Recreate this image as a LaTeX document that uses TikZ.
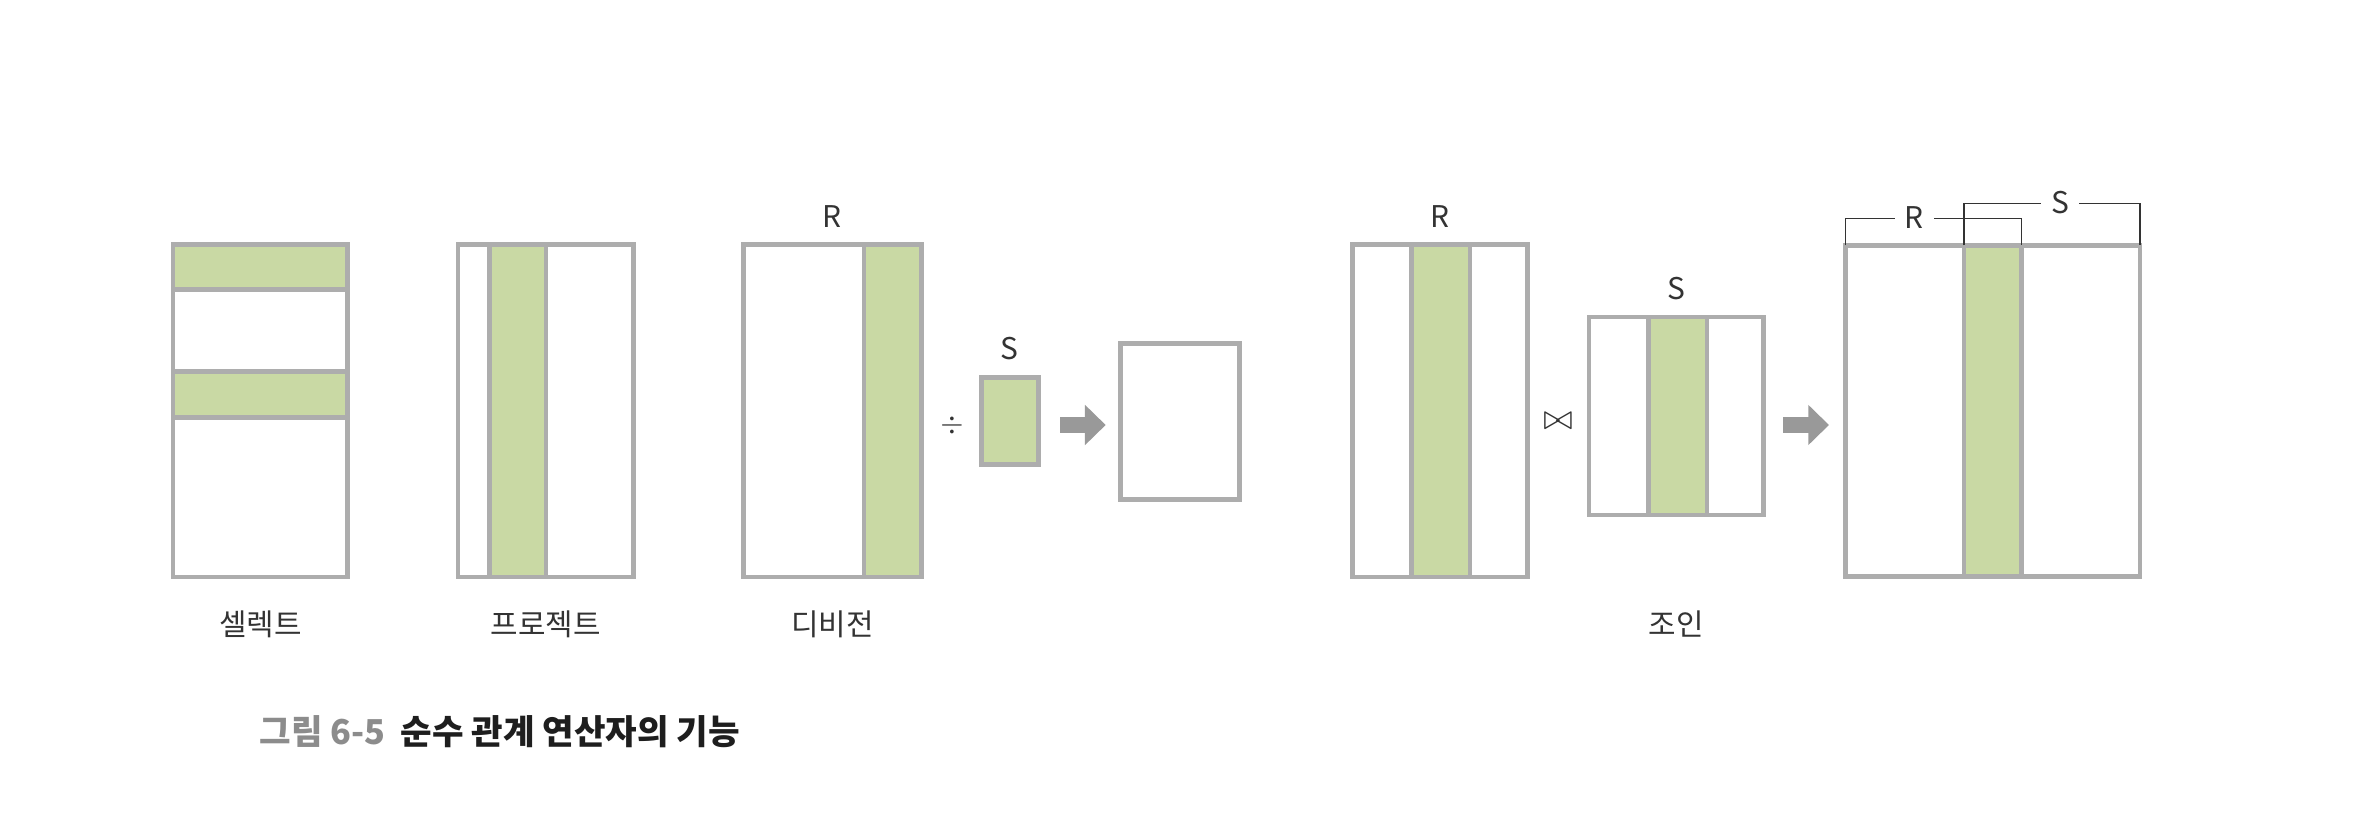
\documentclass[tikz,border=0pt]{standalone}
\usepackage{fontspec}
\setmainfont{Noto Sans CJK KR}
\usetikzlibrary{positioning,arrows.meta}

\definecolor{linegray}{HTML}{ADADAD}
\definecolor{attrgreen}{HTML}{C9D9A4}
\definecolor{arrowgray}{HTML}{999999}
\definecolor{textdark}{HTML}{333333}
\definecolor{capgray}{HTML}{8C8C8C}
\definecolor{capdark}{HTML}{1E1E1E}

\tikzset{
  rel/.style={draw=linegray, line width=0.045cm, fill=white, rectangle,
    inner sep=0pt, outer sep=0pt, anchor=north west},
  attr/.style={rel, fill=attrgreen},
  relname/.style={font=\fontsize{8.5}{10}\selectfont, text=textdark, inner sep=0pt},
  opsign/.style={text=textdark, inner sep=0pt},
  bigarrow/.style={arrowgray, line width=0.167cm,
    -{Triangle[length=0.207cm, width=0.39cm]}},
  brkt/.style={textdark, line width=0.45pt},
  tag/.style={relname, fill=white, inner xsep=0.1cm},
}

\begin{document}
\begin{tikzpicture}[x=0.01cm, y=-0.01cm]
    \useasboundingbox (0,0) rectangle (2360,816);

    % Select
    \node[rel, minimum width=1.745cm, minimum height=3.322cm] (sel) at (173,244.5) {};
    \node[attr, minimum width=1.745cm, minimum height=0.448cm] (selrow1) at (173,244.5) {};
    \node[attr, minimum width=1.745cm, minimum height=0.46cm] (selrow2) at (173,371.3) {};

    % Project
    \node[rel, minimum width=1.753cm, minimum height=3.322cm] (prj) at (458,244.5) {};
    \node[attr, minimum width=0.567cm, minimum height=3.322cm] (prjcol) at (489.3,244.5) {};

    % Division
    \node[rel, minimum width=1.78cm, minimum height=3.322cm] (divr) at (743.3,244.5) {};
    \node[attr, minimum width=0.573cm, minimum height=3.322cm] (divrcol) at (864,244.5) {};
    \node[relname, above=0.165cm of divr] (divrtag) {R};
    \node[opsign, font=\fontsize{8}{10}\selectfont] (divop) at (952,425) {$\div$};
    \node[attr, minimum width=0.57cm, minimum height=0.87cm] (divs) at (981.3,377.3) {};
    \node[relname, above=0.165cm of divs] (divstag) {S};
    \node[rel, minimum width=1.19cm, minimum height=1.556cm] (divres) at (1120.3,343.7) {};

    % Join
    \node[rel, minimum width=1.746cm, minimum height=3.322cm] (jnr) at (1352.7,244.5) {};
    \node[attr, minimum width=0.587cm, minimum height=3.322cm] (jnrcol) at (1411.3,244.5) {};
    \node[relname, above=0.165cm of jnr] (jnrtag) {R};
    \node[opsign, font=\fontsize{10}{12}\selectfont] (jnop) at (1558,421) {$\bowtie$};
    \node[rel, minimum width=1.743cm, minimum height=1.977cm] (jns) at (1589,317) {};
    \node[attr, minimum width=0.58cm, minimum height=1.977cm] (jnscol) at (1648.7,317) {};
    \node[relname, above=0.165cm of jns] (jnstag) {S};
    \node[rel, minimum width=2.947cm, minimum height=3.31cm] (res) at (1845.3,245.3) {};
    \node[attr, minimum width=0.573cm, minimum height=3.31cm] (rescol) at (1964,245.3) {};

    % Brackets
    \draw[brkt] (res.north west) -- ++(0,-27) -| (rescol.north east);
    \draw[brkt] (rescol.north west) -- ++(0,-42) -| (res.north east);
    \node[tag] (restagr) at (1914,218) {R};
    \node[tag] (restags) at (2060,203) {S};

    % Arrows
    \coordinate (arrowy) at (0,425);
    \draw[bigarrow, shorten <=0.217cm, shorten >=0.146cm] (divs.east |- arrowy) -- (divres.west |- arrowy);
    \draw[bigarrow, shorten <=0.197cm, shorten >=0.163cm] (jns.east |- arrowy) -- (res.west |- arrowy);

    % Names
    \coordinate (jnbase) at (jns.south |- sel.south);
    \node[relname, below=0.335cm of sel] (selname) {셀렉트};
    \node[relname, below=0.335cm of prj] (prjname) {프로젝트};
    \node[relname, below=0.335cm of divr] (divname) {디비전};
    \node[relname, below=0.335cm of jnbase] (jnname) {조인};

    % Caption
    \node[anchor=west, inner sep=0pt, font=\fontsize{9.75}{12}\selectfont\bfseries] (cap) at (259,732)
      {\textcolor{capgray}{그림 6-5}\hspace{0.45em}\textcolor{capdark}{순수 관계 연산자의 기능}};

\end{tikzpicture}
\end{document}
